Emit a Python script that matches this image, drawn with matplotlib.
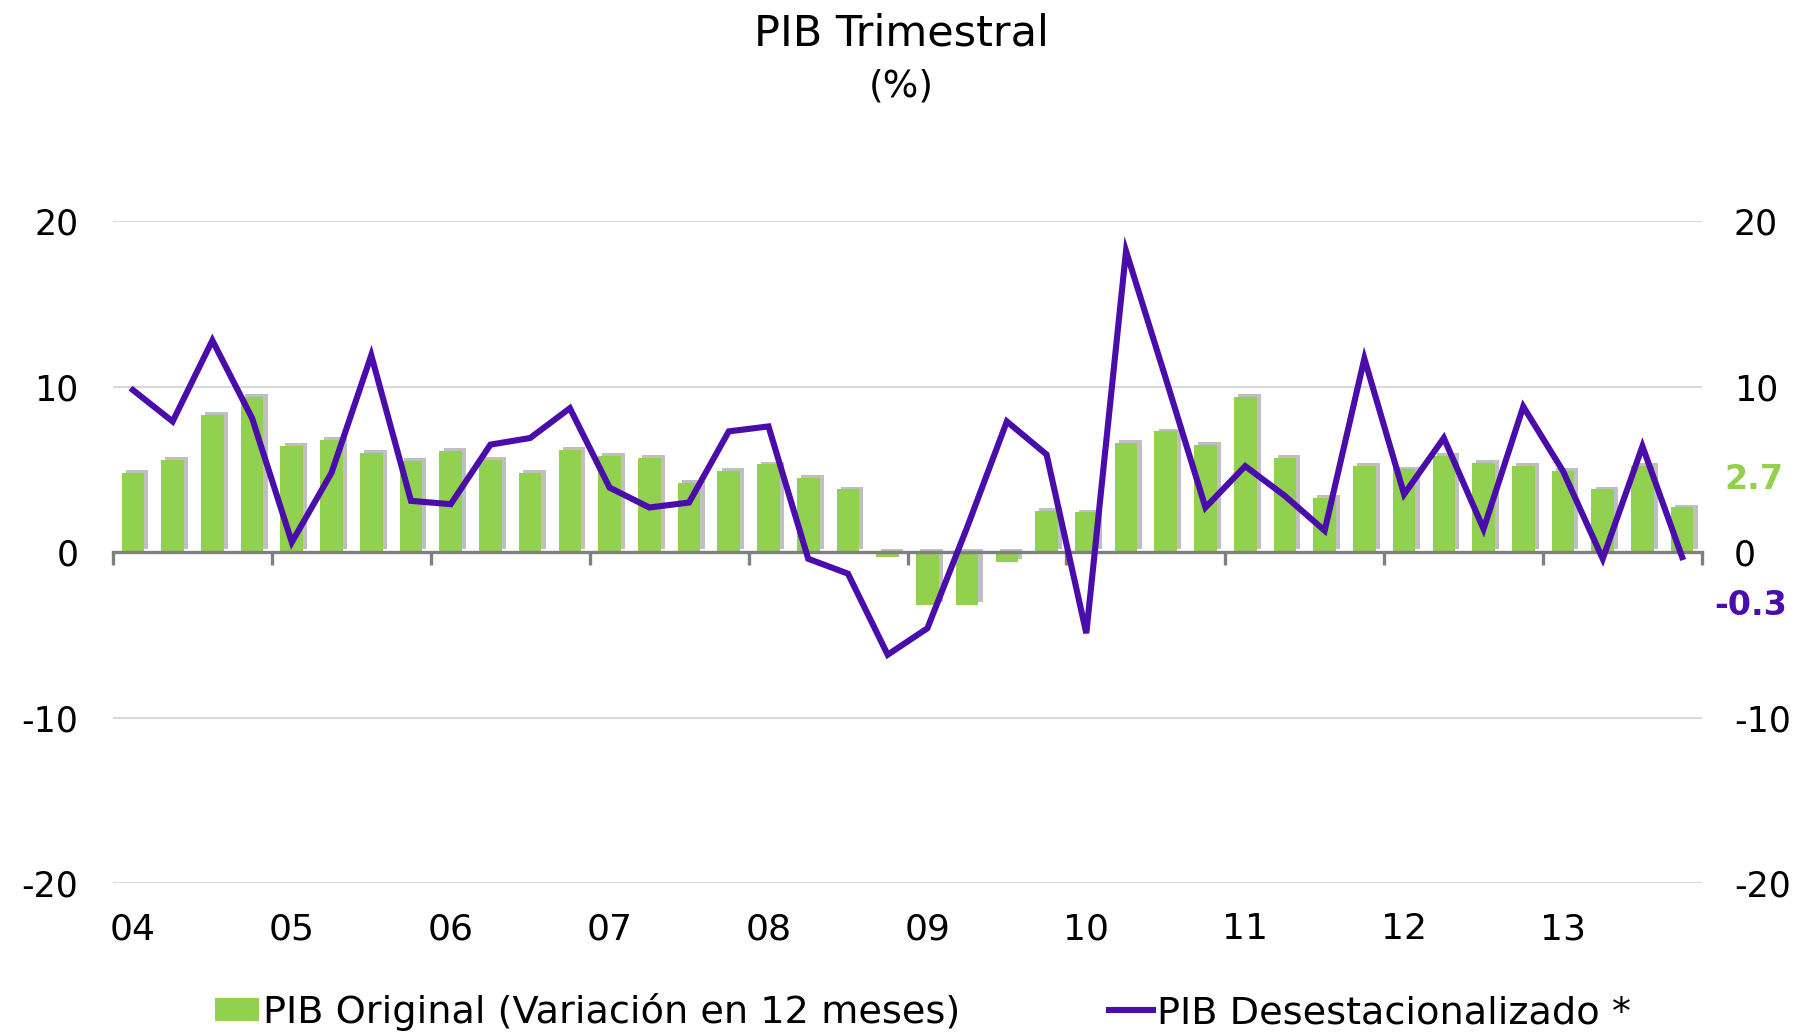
"""PIB Trimestral: quarterly GDP, original y/y change (bars) vs seasonally adjusted (line)."""
import numpy as np
import matplotlib
matplotlib.use("Agg")
import matplotlib.pyplot as plt
import matplotlib.patheffects as pe
from matplotlib.patches import Patch
from matplotlib.lines import Line2D
from matplotlib.transforms import blended_transform_factory

plt.rcParams["font.family"] = ["DejaVu Sans"]
plt.rcParams["axes.unicode_minus"] = False

# ---------------------------------------------------------------------------
# data: 2004Q1 .. 2013Q4
# ---------------------------------------------------------------------------
years = ["04", "05", "06", "07", "08", "09", "10", "11", "12", "13"]

pib_original = [
    4.8, 5.6, 8.3, 9.4,
    6.4, 6.8, 6.0, 5.5,
    6.1, 5.6, 4.8, 6.2,
    5.8, 5.7, 4.2, 4.9,
    5.3, 4.5, 3.8, -0.3,
    -3.2, -3.2, -0.6, 2.5,
    2.4, 6.6, 7.3, 6.5,
    9.4, 5.7, 3.3, 5.2,
    5.0, 5.8, 5.4, 5.2,
    4.9, 3.8, 5.2, 2.7,
]

pib_desest = [
    9.8, 7.9, 12.8, 8.1,
    0.6, 4.8, 11.9, 3.1,
    2.9, 6.5, 6.9, 8.7,
    3.9, 2.7, 3.0, 7.3,
    7.6, -0.4, -1.3, -6.2,
    -4.6, 1.5, 7.9, 5.9,
    -4.9, 18.2, 10.5, 2.7,
    5.2, 3.4, 1.3, 11.7,
    3.5, 6.9, 1.4, 8.8,
    4.9, -0.4, 6.4, -0.3,
]

yticks = [-20, -10, 0, 10, 20]

GREEN = "#92D050"
PURPLE = "#4A0DAB"
GRAY = "#808080"

# ---------------------------------------------------------------------------
fig = plt.figure(figsize=(18.03, 10.34), dpi=100)
ax = fig.add_axes([0.0627, 0.146, 0.8813, 0.640])

x = np.arange(len(pib_original))
bars = ax.bar(x, pib_original, width=0.57, color=GREEN, zorder=2)
for b in bars:
    b.set_path_effects([pe.SimplePatchShadow(offset=(3, 2), shadow_rgbFace="#8c8c8c", alpha=0.55),
                        pe.Normal()])
ax.plot(x, pib_desest, color=PURPLE, lw=4.4, zorder=3, solid_joinstyle="miter")

ax.set_xlim(-0.5, len(x) - 0.5)
ax.set_ylim(-20, 20)
ax.set_yticks(yticks)
ax.yaxis.grid(True, color="#d9d9d9", lw=1.5, zorder=0)
ax.tick_params(axis="y", length=0, pad=25, labelsize=25)

for side in ("left", "right", "top"):
    ax.spines[side].set_visible(False)
ax.spines["bottom"].set_position(("data", 0))
ax.spines["bottom"].set_color(GRAY)
ax.spines["bottom"].set_linewidth(2.4)
ax.spines["bottom"].set_zorder(2.5)
ax.set_xticks(np.arange(-0.5, len(x), 4))
ax.set_xticklabels([])
ax.tick_params(axis="x", direction="out", length=9, width=2.4, color=GRAY)

# year labels below the plot, under each year's first quarter
trans = blended_transform_factory(ax.transData, ax.transAxes)
for i, yr in enumerate(years):
    ax.text(i * 4, -0.07, yr, transform=trans, ha="center", va="center", fontsize=26)

# right-hand axis with same scale
ax2 = ax.twinx()
ax2.set_ylim(ax.get_ylim())
ax2.set_yticks(yticks)
ax2.tick_params(axis="y", length=0, pad=23, labelsize=25)
for side in ("left", "right", "top", "bottom"):
    ax2.spines[side].set_visible(False)

# last-value labels
rtrans = blended_transform_factory(ax.transAxes, ax.transData)
ax.annotate(f"{pib_original[-1]:.1f}", xy=(1, pib_original[-1]), xycoords=rtrans,
            xytext=(37, 20), textcoords="offset points", ha="center", va="center",
            fontsize=24, fontweight="bold", color=GREEN, annotation_clip=False)
ax.annotate(f"{pib_desest[-1]:.1f}", xy=(1, pib_desest[-1]), xycoords=rtrans,
            xytext=(35, -35), textcoords="offset points", ha="center", va="center",
            fontsize=24, fontweight="bold", color=PURPLE, annotation_clip=False)

fig.text(0.5, 1 - 34 / 1034, "PIB Trimestral", ha="center", va="center", fontsize=31)
fig.text(0.5, 1 - 86 / 1034, "(%)", ha="center", va="center", fontsize=27)

handles = [Patch(facecolor=GREEN, edgecolor="none"),
           Line2D([], [], color=PURPLE, lw=4.4)]
labels = ["PIB Original (Variación en 12 meses)", "PIB Desestacionalizado *"]
fig.legend(handles, labels, loc="center", bbox_to_anchor=(0.512, 1 - 1012 / 1034), ncol=2,
           frameon=False, fontsize=27.5, handlelength=1.15, handleheight=0.55,
           handletextpad=0.1, columnspacing=3.9)

fig.savefig("out.png", dpi=100)
